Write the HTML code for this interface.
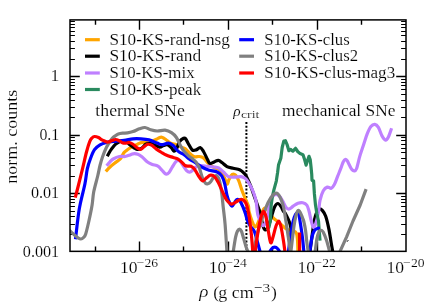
<!DOCTYPE html>
<html><head><meta charset="utf-8"><title>chart</title>
<style>html,body{margin:0;padding:0;background:#fff}svg{display:block}</style></head>
<body>
<svg width="436" height="305" viewBox="0 0 436 305">
<rect width="436" height="305" fill="#fff"/>
<defs><filter id="idf" x="0" y="0" width="436" height="305" filterUnits="userSpaceOnUse" color-interpolation-filters="sRGB"><feOffset dx="0" dy="0"/></filter><clipPath id="c"><rect x="70.0" y="19.9" width="336.0" height="231.45"/></clipPath></defs>
<path d="M95.50 251.35 v-4.9 M95.50 19.9 v4.9 M139.50 251.35 v-9.8 M139.50 19.9 v9.8 M183.50 251.35 v-4.9 M183.50 19.9 v4.9 M228.50 251.35 v-9.8 M228.50 19.9 v9.8 M272.50 251.35 v-4.9 M272.50 19.9 v4.9 M317.50 251.35 v-9.8 M317.50 19.9 v9.8 M361.50 251.35 v-4.9 M361.50 19.9 v4.9" stroke="#000" stroke-width="1.4" fill="none"/>
<path d="M70.0 193.50 h9.8 M406.0 193.50 h-9.8 M70.0 135.50 h9.8 M406.0 135.50 h-9.8 M70.0 76.50 h9.8 M406.0 76.50 h-9.8" stroke="#000" stroke-width="1.45" fill="none"/>
<path d="M70.0 234.50 h4.9 M406.0 234.50 h-4.9 M70.0 224.50 h4.9 M406.0 224.50 h-4.9 M70.0 216.50 h4.9 M406.0 216.50 h-4.9 M70.0 211.50 h4.9 M406.0 211.50 h-4.9 M70.0 206.50 h4.9 M406.0 206.50 h-4.9 M70.0 202.50 h4.9 M406.0 202.50 h-4.9 M70.0 199.50 h4.9 M406.0 199.50 h-4.9 M70.0 196.50 h4.9 M406.0 196.50 h-4.9 M70.0 176.50 h4.9 M406.0 176.50 h-4.9 M70.0 165.50 h4.9 M406.0 165.50 h-4.9 M70.0 158.50 h4.9 M406.0 158.50 h-4.9 M70.0 152.50 h4.9 M406.0 152.50 h-4.9 M70.0 148.50 h4.9 M406.0 148.50 h-4.9 M70.0 144.50 h4.9 M406.0 144.50 h-4.9 M70.0 140.50 h4.9 M406.0 140.50 h-4.9 M70.0 137.50 h4.9 M406.0 137.50 h-4.9 M70.0 117.50 h4.9 M406.0 117.50 h-4.9 M70.0 107.50 h4.9 M406.0 107.50 h-4.9 M70.0 100.50 h4.9 M406.0 100.50 h-4.9 M70.0 94.50 h4.9 M406.0 94.50 h-4.9 M70.0 89.50 h4.9 M406.0 89.50 h-4.9 M70.0 85.50 h4.9 M406.0 85.50 h-4.9 M70.0 82.50 h4.9 M406.0 82.50 h-4.9 M70.0 79.50 h4.9 M406.0 79.50 h-4.9 M70.0 59.50 h4.9 M406.0 59.50 h-4.9 M70.0 48.50 h4.9 M406.0 48.50 h-4.9 M70.0 41.50 h4.9 M406.0 41.50 h-4.9 M70.0 35.50 h4.9 M406.0 35.50 h-4.9 M70.0 31.50 h4.9 M406.0 31.50 h-4.9 M70.0 27.50 h4.9 M406.0 27.50 h-4.9 M70.0 24.50 h4.9 M406.0 24.50 h-4.9 M70.0 21.50 h4.9 M406.0 21.50 h-4.9" stroke="#000" stroke-width="1.1" fill="none"/>
<g clip-path="url(#c)" fill="none" stroke-width="3.2" stroke-linejoin="round" stroke-linecap="butt">
<path d="M246.4 122 V251.35" stroke="#000" stroke-width="2" stroke-dasharray="2 1.7" fill="none"/>
<path d="M105.80 171.50 C106.50 170.75 108.53 168.38 110.00 167.00 C111.47 165.62 113.27 164.23 114.60 163.20 C115.93 162.17 116.93 161.67 118.00 160.80 C119.07 159.93 120.02 159.33 121.00 158.00 C121.98 156.67 122.98 154.05 123.90 152.80 C124.82 151.55 125.58 151.23 126.50 150.50 C127.42 149.77 128.32 149.07 129.40 148.40 C130.48 147.73 131.78 147.12 133.00 146.50 C134.22 145.88 135.53 145.30 136.70 144.70 C137.87 144.10 138.95 143.28 140.00 142.90 C141.05 142.52 142.00 142.45 143.00 142.40 C144.00 142.35 144.92 142.62 146.00 142.60 C147.08 142.58 147.75 142.85 149.50 142.30 C151.25 141.75 154.87 140.07 156.50 139.30 C158.13 138.53 158.42 138.03 159.30 137.70 C160.18 137.37 160.72 137.00 161.80 137.30 C162.88 137.60 164.35 138.50 165.80 139.50 C167.25 140.50 168.73 142.43 170.50 143.30 C172.27 144.17 174.62 144.07 176.40 144.70 C178.18 145.33 179.77 146.47 181.20 147.10 C182.63 147.73 183.87 147.77 185.00 148.50 C186.13 149.23 187.00 150.50 188.00 151.50 C189.00 152.50 189.90 153.62 191.00 154.50 C192.10 155.38 193.20 156.47 194.60 156.80 C196.00 157.13 197.92 156.32 199.40 156.50 C200.88 156.68 202.15 156.87 203.50 157.90 C204.85 158.93 206.03 161.23 207.50 162.70 C208.97 164.17 210.70 165.73 212.30 166.70 C213.90 167.67 215.90 167.95 217.10 168.50 C218.30 169.05 218.30 168.48 219.50 170.00 C220.70 171.52 223.05 175.25 224.30 177.60 C225.55 179.95 226.20 183.82 227.00 184.10 C227.80 184.38 228.22 180.92 229.10 179.30 C229.98 177.68 231.22 175.08 232.30 174.40 C233.38 173.72 234.52 174.12 235.60 175.20 C236.68 176.28 237.73 178.35 238.80 180.90 C239.87 183.45 240.93 187.57 242.00 190.50 C243.07 193.43 244.13 195.92 245.20 198.50 C246.27 201.08 247.77 203.85 248.40 206.00 C249.03 208.15 248.37 208.82 249.00 211.40 C249.63 213.98 251.13 218.90 252.20 221.50 C253.27 224.10 254.33 227.00 255.40 227.00 C256.47 227.00 257.52 223.83 258.60 221.50 C259.68 219.17 260.95 215.22 261.90 213.00 C262.85 210.78 263.45 208.78 264.30 208.20 C265.15 207.62 265.53 207.90 267.00 209.50 C268.47 211.10 271.42 215.88 273.10 217.80 C274.78 219.72 274.83 219.12 277.10 221.00 C279.37 222.88 284.02 227.48 286.70 229.10 C289.38 230.72 291.58 230.03 293.20 230.70 C294.82 231.37 295.68 231.55 296.40 233.10 C297.12 234.65 297.23 236.68 297.50 240.00 C297.77 243.32 297.92 250.83 298.00 253.00" stroke="#FFA500"/>
<path d="M347.00 241.80 L348.40 240.00" stroke="#000000" stroke-width="0.9"/>
<path d="M107.20 156.30 C107.75 155.33 109.45 152.13 110.50 150.50 C111.55 148.87 112.55 147.62 113.50 146.50 C114.45 145.38 114.95 144.67 116.20 143.80 C117.45 142.93 119.37 141.63 121.00 141.30 C122.63 140.97 124.27 141.02 126.00 141.80 C127.73 142.58 130.07 145.00 131.40 146.00 C132.73 147.00 133.07 147.25 134.00 147.80 C134.93 148.35 135.83 149.15 137.00 149.30 C138.17 149.45 139.52 149.55 141.00 148.70 C142.48 147.85 144.57 145.07 145.90 144.20 C147.23 143.33 147.93 143.55 149.00 143.50 C150.07 143.45 150.55 143.30 152.30 143.90 C154.05 144.50 157.63 146.83 159.50 147.10 C161.37 147.37 162.17 145.90 163.50 145.50 C164.83 145.10 166.17 144.30 167.50 144.70 C168.83 145.10 170.42 146.83 171.50 147.90 C172.58 148.97 173.17 150.92 174.00 151.10 C174.83 151.28 175.57 150.60 176.50 149.00 C177.43 147.40 178.42 143.28 179.60 141.50 C180.78 139.72 182.62 138.78 183.60 138.30 C184.58 137.82 184.73 137.73 185.50 138.60 C186.27 139.47 187.08 141.62 188.20 143.50 C189.32 145.38 190.87 148.83 192.20 149.90 C193.53 150.97 194.87 150.30 196.20 149.90 C197.53 149.50 198.98 147.23 200.20 147.50 C201.42 147.77 202.28 149.50 203.50 151.50 C204.72 153.50 206.43 157.50 207.50 159.50 C208.57 161.50 208.78 163.08 209.90 163.50 C211.02 163.92 212.80 162.53 214.20 162.00 C215.60 161.47 216.95 160.17 218.30 160.30 C219.65 160.43 220.85 161.75 222.30 162.80 C223.75 163.85 225.18 165.68 227.00 166.60 C228.82 167.52 231.10 167.77 233.20 168.30 C235.30 168.83 237.87 169.05 239.60 169.80 C241.33 170.55 242.53 171.80 243.60 172.80 C244.67 173.80 244.83 173.62 246.00 175.80 C247.17 177.98 249.17 182.35 250.60 185.90 C252.03 189.45 253.27 193.37 254.60 197.10 C255.93 200.83 257.67 205.65 258.60 208.30 C259.53 210.95 259.47 210.05 260.20 213.00 C260.93 215.95 262.12 223.17 263.00 226.00 C263.88 228.83 264.62 229.92 265.50 230.00 C266.38 230.08 267.17 229.20 268.30 226.50 C269.43 223.80 271.23 217.10 272.30 213.80 C273.37 210.50 273.77 208.42 274.70 206.70 C275.63 204.98 276.83 203.50 277.90 203.50 C278.97 203.50 280.17 205.37 281.10 206.70 C282.03 208.03 282.83 210.45 283.50 211.50 C284.17 212.55 284.30 211.68 285.10 213.00 C285.90 214.32 287.43 217.40 288.30 219.40 C289.17 221.40 289.82 223.07 290.30 225.00 C290.78 226.93 291.15 228.83 291.20 231.00 C291.25 233.17 290.83 235.50 290.60 238.00 C290.37 240.50 289.98 243.50 289.80 246.00 C289.62 248.50 289.55 251.83 289.50 253.00" stroke="#000000"/>
<path d="M309.80 253.00 C310.08 250.83 310.97 244.00 311.50 240.00 C312.03 236.00 312.50 232.42 313.00 229.00 C313.50 225.58 313.92 222.20 314.50 219.50 C315.08 216.80 315.70 214.55 316.50 212.80 C317.30 211.05 318.30 209.37 319.30 209.00 C320.30 208.63 321.43 209.40 322.50 210.60 C323.57 211.80 324.63 213.12 325.70 216.20 C326.77 219.28 327.97 224.55 328.90 229.10 C329.83 233.65 330.62 239.52 331.30 243.50 C331.98 247.48 332.72 251.42 333.00 253.00" stroke="#000000"/>
<path d="M106.60 165.80 C107.17 165.13 108.90 162.93 110.00 161.80 C111.10 160.67 111.63 159.88 113.20 159.00 C114.77 158.12 117.43 156.92 119.40 156.50 C121.37 156.08 123.23 156.75 125.00 156.50 C126.77 156.25 128.67 155.45 130.00 155.00 C131.33 154.55 131.70 153.93 133.00 153.80 C134.30 153.67 136.32 153.70 137.80 154.20 C139.28 154.70 140.28 155.50 141.90 156.80 C143.52 158.10 145.77 160.73 147.50 162.00 C149.23 163.27 150.57 163.72 152.30 164.40 C154.03 165.08 156.30 165.15 157.90 166.10 C159.50 167.05 160.57 168.77 161.90 170.10 C163.23 171.43 164.70 173.70 165.90 174.10 C167.10 174.50 168.02 173.70 169.10 172.50 C170.18 171.30 171.32 168.65 172.40 166.90 C173.48 165.15 174.67 163.08 175.60 162.00 C176.53 160.92 177.18 160.48 178.00 160.40 C178.82 160.32 179.70 160.70 180.50 161.50 C181.30 162.30 181.78 163.68 182.80 165.20 C183.82 166.72 185.47 169.43 186.60 170.60 C187.73 171.77 188.53 172.30 189.60 172.20 C190.67 172.10 191.93 170.87 193.00 170.00 C194.07 169.13 194.67 167.73 196.00 167.00 C197.33 166.27 199.08 165.70 201.00 165.60 C202.92 165.50 205.35 166.17 207.50 166.40 C209.65 166.63 212.03 166.73 213.90 167.00 C215.77 167.27 217.10 167.17 218.70 168.00 C220.30 168.83 221.90 170.57 223.50 172.00 C225.10 173.43 226.42 175.73 228.30 176.60 C230.18 177.47 232.65 177.20 234.80 177.20 C236.95 177.20 239.33 176.30 241.20 176.60 C243.07 176.90 244.40 177.35 246.00 179.00 C247.60 180.65 249.47 184.00 250.80 186.50 C252.13 189.00 253.10 191.43 254.00 194.00 C254.90 196.57 255.57 198.47 256.20 201.90 C256.83 205.33 257.00 211.22 257.80 214.60 C258.60 217.98 260.08 220.37 261.00 222.20 C261.92 224.03 262.38 225.88 263.30 225.60 C264.22 225.32 265.67 222.87 266.50 220.50 C267.33 218.13 267.88 213.98 268.30 211.40 C268.72 208.82 268.38 207.32 269.00 205.00 C269.62 202.68 270.92 199.25 272.00 197.50 C273.08 195.75 274.25 194.70 275.50 194.50 C276.75 194.30 278.30 195.20 279.50 196.30 C280.70 197.40 281.63 199.28 282.70 201.10 C283.77 202.92 284.82 205.88 285.90 207.20 C286.98 208.52 287.98 209.17 289.20 209.00 C290.42 208.83 291.73 207.17 293.20 206.20 C294.67 205.23 296.40 203.78 298.00 203.20 C299.60 202.62 301.33 202.38 302.80 202.70 C304.27 203.02 305.77 203.72 306.80 205.10 C307.83 206.48 308.32 208.60 309.00 211.00 C309.68 213.40 310.17 216.75 310.90 219.50 C311.63 222.25 312.55 226.97 313.40 227.50 C314.25 228.03 315.15 225.28 316.00 222.70 C316.85 220.12 317.83 215.73 318.50 212.00 C319.17 208.27 319.20 203.85 320.00 200.30 C320.80 196.75 322.08 192.90 323.30 190.70 C324.52 188.50 325.97 187.50 327.30 187.10 C328.63 186.70 330.10 188.77 331.30 188.30 C332.50 187.83 333.43 186.32 334.50 184.30 C335.57 182.28 336.63 178.88 337.70 176.20 C338.77 173.52 339.98 170.57 340.90 168.20 C341.82 165.83 342.48 163.45 343.20 162.00 C343.92 160.55 344.53 159.70 345.20 159.50 C345.87 159.30 346.48 159.83 347.20 160.80 C347.92 161.77 348.70 163.83 349.50 165.30 C350.30 166.77 351.20 168.68 352.00 169.60 C352.80 170.52 353.55 170.93 354.30 170.80 C355.05 170.67 355.57 171.28 356.50 168.80 C357.43 166.32 358.73 159.88 359.90 155.90 C361.07 151.92 362.28 148.57 363.50 144.90 C364.72 141.23 365.97 136.97 367.20 133.90 C368.43 130.83 369.63 128.08 370.90 126.50 C372.17 124.92 373.55 124.25 374.80 124.40 C376.05 124.55 377.20 125.48 378.40 127.40 C379.60 129.32 380.80 133.78 382.00 135.90 C383.20 138.02 384.53 139.92 385.60 140.10 C386.67 140.28 387.40 138.97 388.40 137.00 C389.40 135.03 391.07 129.75 391.60 128.30" stroke="#BF80FF"/>
<path d="M267.20 230.50 L269.00 227.00 L270.30 221.00 L270.70 213.80 L271.20 205.00 L272.30 197.10 L273.90 189.90 L276.30 181.10 L277.60 172.50 L278.50 165.10 L280.90 157.90 L282.20 147.50 L283.80 141.10 L285.40 140.70 L287.00 144.30 L288.90 150.70 L290.50 149.40 L292.90 151.20 L295.60 148.30 L297.70 151.50 L300.10 153.60 L303.00 154.70 L304.60 159.50 L306.10 165.10 L307.40 161.10 L309.00 156.30 L310.20 159.50 L311.00 166.70 L311.70 173.80 L312.00 180.20 L313.60 181.00 L314.40 193.90 L315.50 205.10 L316.90 213.80 L318.50 221.00 L320.00 240.60" stroke="#2A8A5F"/>
<path d="M75.50 239.20 C76.13 234.13 77.73 218.00 79.30 208.80 C80.87 199.60 83.57 190.67 84.90 184.00 C86.23 177.33 86.37 173.05 87.30 168.80 C88.23 164.55 89.30 161.68 90.50 158.50 C91.70 155.32 92.92 151.97 94.50 149.70 C96.08 147.43 98.00 146.10 100.00 144.90 C102.00 143.70 104.07 143.10 106.50 142.50 C108.93 141.90 111.65 141.65 114.60 141.30 C117.55 140.95 121.13 140.82 124.20 140.40 C127.27 139.98 130.20 139.07 133.00 138.80 C135.80 138.53 138.33 138.62 141.00 138.80 C143.67 138.98 146.32 139.18 149.00 139.90 C151.68 140.62 154.95 142.30 157.10 143.10 C159.25 143.90 160.03 144.70 161.90 144.70 C163.77 144.70 166.42 142.97 168.30 143.10 C170.18 143.23 171.58 144.17 173.20 145.50 C174.82 146.83 176.13 149.52 178.00 151.10 C179.87 152.68 182.53 153.68 184.40 155.00 C186.27 156.32 187.43 157.75 189.20 159.00 C190.97 160.25 192.75 161.08 195.00 162.50 C197.25 163.92 200.35 166.22 202.70 167.50 C205.05 168.78 206.70 169.45 209.10 170.20 C211.50 170.95 214.98 171.03 217.10 172.00 C219.22 172.97 220.52 173.98 221.80 176.00 C223.08 178.02 223.93 180.88 224.80 184.10 C225.67 187.32 226.18 192.15 227.00 195.30 C227.82 198.45 228.85 201.18 229.70 203.00 C230.55 204.82 231.28 206.27 232.10 206.20 C232.92 206.13 233.78 203.73 234.60 202.60 C235.42 201.47 236.12 199.70 237.00 199.40 C237.88 199.10 238.87 199.45 239.90 200.80 C240.93 202.15 242.28 205.38 243.20 207.50 C244.12 209.62 244.67 211.25 245.40 213.50 C246.13 215.75 246.75 218.83 247.60 221.00 C248.45 223.17 249.40 224.80 250.50 226.50 C251.60 228.20 253.07 228.70 254.20 231.20 C255.33 233.70 256.27 237.87 257.30 241.50 C258.33 245.13 259.88 251.08 260.40 253.00" stroke="#0000FF"/>
<path d="M268.50 254.00 C269.00 253.17 270.47 250.13 271.50 249.00 C272.53 247.87 273.63 247.20 274.70 247.20 C275.77 247.20 276.85 247.87 277.90 249.00 C278.95 250.13 280.48 253.17 281.00 254.00" stroke="#0000FF"/>
<path d="M288.30 253.00 C288.67 250.17 289.68 241.33 290.50 236.00 C291.32 230.67 292.37 224.58 293.20 221.00 C294.03 217.42 294.83 215.83 295.50 214.50 C296.17 213.17 296.62 212.92 297.20 213.00 C297.78 213.08 298.53 213.67 299.00 215.00 C299.47 216.33 299.43 217.32 300.00 221.00 C300.57 224.68 301.73 231.77 302.40 237.10 C303.07 242.43 303.73 250.35 304.00 253.00" stroke="#0000FF"/>
<path d="M309.60 253.00 C310.00 250.35 311.20 240.82 312.00 237.10 C312.80 233.38 313.45 232.17 314.40 230.70 C315.35 229.23 316.77 228.70 317.70 228.30 C318.63 227.90 319.62 228.30 320.00 228.30" stroke="#0000FF"/>
<path d="M68.50 229.60 C68.82 229.88 69.48 230.47 70.40 231.30 C71.32 232.13 72.73 233.52 74.00 234.60 C75.27 235.68 76.85 237.07 78.00 237.80 C79.15 238.53 79.98 239.05 80.90 239.00 C81.82 238.95 82.70 238.35 83.50 237.50 C84.30 236.65 84.80 236.65 85.70 233.90 C86.60 231.15 87.83 225.82 88.90 221.00 C89.97 216.18 91.30 209.83 92.10 205.00 C92.90 200.17 92.77 196.83 93.70 192.00 C94.63 187.17 96.65 180.42 97.70 176.00 C98.75 171.58 99.20 168.67 100.00 165.50 C100.80 162.33 101.42 160.03 102.50 157.00 C103.58 153.97 104.93 150.33 106.50 147.30 C108.07 144.27 110.28 140.80 111.90 138.80 C113.52 136.80 115.13 136.12 116.20 135.30 C117.27 134.48 117.23 134.27 118.30 133.90 C119.37 133.53 121.07 133.27 122.60 133.10 C124.13 132.93 125.77 133.15 127.50 132.90 C129.23 132.65 131.02 132.28 133.00 131.60 C134.98 130.92 137.40 129.48 139.40 128.80 C141.40 128.12 143.12 127.33 145.00 127.50 C146.88 127.67 148.68 129.22 150.70 129.80 C152.72 130.38 154.70 130.93 157.10 131.00 C159.50 131.07 162.70 129.92 165.10 130.20 C167.50 130.48 169.62 131.48 171.50 132.70 C173.38 133.92 174.92 135.37 176.40 137.50 C177.88 139.63 179.15 143.23 180.40 145.50 C181.65 147.77 182.58 149.42 183.90 151.10 C185.22 152.78 186.87 154.32 188.30 155.60 C189.73 156.88 191.22 157.73 192.50 158.80 C193.78 159.87 195.12 160.95 196.00 162.00 C196.88 163.05 197.23 164.10 197.80 165.10 C198.37 166.10 198.58 165.77 199.40 168.00 C200.22 170.23 201.67 175.95 202.70 178.50 C203.73 181.05 204.75 182.42 205.60 183.30 C206.45 184.18 206.95 184.07 207.80 183.80 C208.65 183.53 209.68 182.87 210.70 181.70 C211.72 180.53 212.83 177.75 213.90 176.80 C214.97 175.85 216.17 175.32 217.10 176.00 C218.03 176.68 218.75 178.22 219.50 180.90 C220.25 183.58 220.98 187.75 221.60 192.10 C222.22 196.45 222.62 201.63 223.20 207.00 C223.78 212.37 224.47 216.63 225.10 224.30 C225.73 231.97 226.68 248.22 227.00 253.00" stroke="#808080"/>
<path d="M233.00 253.00 C233.43 250.35 234.85 240.77 235.60 237.10 C236.35 233.43 236.83 232.33 237.50 231.00 C238.17 229.67 238.97 229.10 239.60 229.10 C240.23 229.10 240.77 229.93 241.30 231.00 C241.83 232.07 242.02 232.88 242.80 235.50 C243.58 238.12 245.03 243.78 246.00 246.70 C246.97 249.62 248.17 251.95 248.60 253.00" stroke="#808080"/>
<path d="M253.50 253.00 C254.12 249.83 255.92 239.25 257.20 234.00 C258.48 228.75 259.75 225.92 261.20 221.50 C262.65 217.08 264.32 211.43 265.90 207.50 C267.48 203.57 269.23 200.22 270.70 197.90 C272.17 195.58 273.50 194.27 274.70 193.60 C275.90 192.93 276.83 192.92 277.90 193.90 C278.97 194.88 280.17 197.32 281.10 199.50 C282.03 201.68 282.70 203.42 283.50 207.00 C284.30 210.58 285.10 215.98 285.90 221.00 C286.70 226.02 287.53 231.77 288.30 237.10 C289.07 242.43 290.13 250.35 290.50 253.00" stroke="#808080"/>
<path d="M290.60 253.00 C290.75 251.95 290.93 251.22 291.50 246.70 C292.07 242.18 293.25 231.10 294.00 225.90 C294.75 220.70 295.33 218.07 296.00 215.50 C296.67 212.93 297.28 211.00 298.00 210.50 C298.72 210.00 299.55 211.28 300.30 212.50 C301.05 213.72 301.92 216.30 302.50 217.80 C303.08 219.30 303.28 219.35 303.80 221.50 C304.32 223.65 305.10 227.30 305.60 230.70 C306.10 234.10 306.33 238.18 306.80 241.90 C307.27 245.62 308.13 251.15 308.40 253.00" stroke="#808080"/>
<path d="M315.00 253.00 C315.32 250.62 316.32 242.03 316.90 238.70 C317.48 235.37 317.98 234.33 318.50 233.00 C319.02 231.67 319.47 231.12 320.00 230.70 C320.53 230.28 321.15 230.23 321.70 230.50 C322.25 230.77 322.50 230.67 323.30 232.30 C324.10 233.93 325.38 236.85 326.50 240.30 C327.62 243.75 329.42 250.88 330.00 253.00" stroke="#808080"/>
<path d="M339.30 253.00 L346.50 237.10 L353.00 221.00 L360.20 205.00 L366.10 189.10" stroke="#808080"/>
<path d="M75.20 197.70 C75.67 195.92 76.78 191.82 78.00 187.00 C79.22 182.18 81.08 174.63 82.50 168.80 C83.92 162.97 85.30 156.52 86.50 152.00 C87.70 147.48 88.78 144.03 89.70 141.70 C90.62 139.37 91.20 138.87 92.00 138.00 C92.80 137.13 93.42 136.58 94.50 136.50 C95.58 136.42 97.42 137.03 98.50 137.50 C99.58 137.97 100.08 138.75 101.00 139.30 C101.92 139.85 102.87 140.32 104.00 140.80 C105.13 141.28 106.48 142.23 107.80 142.20 C109.12 142.17 110.60 141.05 111.90 140.60 C113.20 140.15 114.37 139.47 115.60 139.50 C116.83 139.53 118.08 140.23 119.30 140.80 C120.52 141.37 121.68 142.53 122.90 142.90 C124.12 143.27 125.52 143.07 126.60 143.00 C127.68 142.93 128.33 142.28 129.40 142.50 C130.47 142.72 131.78 143.47 133.00 144.30 C134.22 145.13 135.48 146.65 136.70 147.50 C137.92 148.35 139.05 149.55 140.30 149.40 C141.55 149.25 142.95 147.45 144.20 146.60 C145.45 145.75 146.58 144.53 147.80 144.30 C149.02 144.07 150.12 144.43 151.50 145.20 C152.88 145.97 154.42 147.68 156.10 148.90 C157.78 150.12 159.83 151.43 161.60 152.50 C163.37 153.57 164.77 154.47 166.70 155.30 C168.63 156.13 171.32 156.87 173.20 157.50 C175.08 158.13 176.40 158.15 178.00 159.10 C179.60 160.05 181.63 162.13 182.80 163.20 C183.97 164.27 184.13 165.00 185.00 165.50 C185.87 166.00 187.00 166.07 188.00 166.20 C189.00 166.33 189.90 165.78 191.00 166.30 C192.10 166.82 193.33 167.68 194.60 169.30 C195.87 170.92 197.25 174.07 198.60 176.00 C199.95 177.93 201.35 180.63 202.70 180.90 C204.05 181.17 205.37 178.55 206.70 177.60 C208.03 176.65 209.37 175.33 210.70 175.20 C212.03 175.07 213.37 175.45 214.70 176.80 C216.03 178.15 217.37 180.75 218.70 183.30 C220.03 185.85 221.37 189.30 222.70 192.10 C224.03 194.90 225.23 198.10 226.70 200.10 C228.17 202.10 229.88 203.83 231.50 204.10 C233.12 204.37 234.78 202.50 236.40 201.70 C238.02 200.90 239.63 199.08 241.20 199.30 C242.77 199.52 244.52 200.38 245.80 203.00 C247.08 205.62 247.98 209.85 248.90 215.00 C249.82 220.15 250.63 227.57 251.30 233.90 C251.97 240.23 252.63 249.82 252.90 253.00" stroke="#FF0000"/>
<path d="M255.00 253.00 C255.50 249.50 257.00 238.00 258.00 232.00 C259.00 226.00 260.08 220.43 261.00 217.00 C261.92 213.57 262.67 211.40 263.50 211.40 C264.33 211.40 265.17 213.57 266.00 217.00 C266.83 220.43 267.72 227.72 268.50 232.00 C269.28 236.28 269.95 241.87 270.70 242.70 C271.45 243.53 272.12 239.78 273.00 237.00 C273.88 234.22 275.05 228.67 276.00 226.00 C276.95 223.33 277.87 220.83 278.70 221.00 C279.53 221.17 280.20 223.67 281.00 227.00 C281.80 230.33 282.82 236.67 283.50 241.00 C284.18 245.33 284.83 251.00 285.10 253.00" stroke="#FF0000"/>
<path d="M299.60 253.00 L299.60 232.50" stroke="#FF0000"/>
</g>
<rect x="70.0" y="19.9" width="336.0" height="231.45" fill="none" stroke="#000" stroke-width="1.5"/>
<g font-family="'Liberation Serif', serif" fill="#000" stroke="#fff" stroke-width="0.15" filter="url(#idf)">
<path d="M85 39.7 H99.8" stroke="#FFA500" stroke-width="3.2"/>
<text x="109.4" y="44.7" font-size="17.6" text-anchor="start" textLength="120.5" lengthAdjust="spacingAndGlyphs">S10-KS-rand-nsg</text>
<path d="M85 56.2 H99.8" stroke="#000000" stroke-width="3.2"/>
<text x="109.4" y="61.2" font-size="17.6" text-anchor="start" textLength="91.8" lengthAdjust="spacingAndGlyphs">S10-KS-rand</text>
<path d="M85 73.0 H99.8" stroke="#BF80FF" stroke-width="3.2"/>
<text x="109.4" y="78.0" font-size="17.6" text-anchor="start" textLength="85.2" lengthAdjust="spacingAndGlyphs">S10-KS-mix</text>
<path d="M85 89.5 H99.8" stroke="#2A8A5F" stroke-width="3.2"/>
<text x="109.4" y="94.5" font-size="17.6" text-anchor="start" textLength="91.8" lengthAdjust="spacingAndGlyphs">S10-KS-peak</text>
<path d="M239.2 39.7 H254" stroke="#0000FF" stroke-width="3.2"/>
<text x="264.3" y="44.7" font-size="17.6" text-anchor="start" textLength="85.4" lengthAdjust="spacingAndGlyphs">S10-KS-clus</text>
<path d="M239.2 56.2 H254" stroke="#808080" stroke-width="3.2"/>
<text x="264.3" y="61.2" font-size="17.6" text-anchor="start" textLength="93.7" lengthAdjust="spacingAndGlyphs">S10-KS-clus2</text>
<path d="M239.2 73.0 H254" stroke="#FF0000" stroke-width="3.2"/>
<text x="264.3" y="78.0" font-size="17.6" text-anchor="start" textLength="130.9" lengthAdjust="spacingAndGlyphs">S10-KS-clus-mag3</text>
<text x="95.3" y="115.9" font-size="17.6" text-anchor="start" textLength="89.5" lengthAdjust="spacingAndGlyphs">thermal SNe</text>
<text x="282" y="115.9" font-size="17.6" text-anchor="start" textLength="113.5" lengthAdjust="spacingAndGlyphs">mechanical SNe</text>
<text x="233.2" y="115.6" font-size="15.3" font-style="italic">ρ</text><text x="240.9" y="117.8" font-size="10.5" textLength="18.6" lengthAdjust="spacingAndGlyphs">crit</text>
<text x="59.2" y="81.39999999999999" font-size="17.6" text-anchor="end">1</text>
<text x="59.2" y="139.79999999999998" font-size="17.6" text-anchor="end" textLength="19.8" lengthAdjust="spacingAndGlyphs">0.1</text>
<text x="59.2" y="198.2" font-size="17.6" text-anchor="end" textLength="28.3" lengthAdjust="spacingAndGlyphs">0.01</text>
<text x="59.2" y="256.6" font-size="17.6" text-anchor="end" textLength="36.4" lengthAdjust="spacingAndGlyphs">0.001</text>
<text x="119.88" y="272.9" font-size="17.6">10</text><text x="136.78" y="267.1" font-size="12.3" textLength="21.3" lengthAdjust="spacingAndGlyphs">−26</text>
<text x="208.72" y="272.9" font-size="17.6">10</text><text x="225.62" y="267.1" font-size="12.3" textLength="21.3" lengthAdjust="spacingAndGlyphs">−24</text>
<text x="297.56" y="272.9" font-size="17.6">10</text><text x="314.46" y="267.1" font-size="12.3" textLength="21.3" lengthAdjust="spacingAndGlyphs">−22</text>
<text x="386.40" y="272.9" font-size="17.6">10</text><text x="403.30" y="267.1" font-size="12.3" textLength="21.3" lengthAdjust="spacingAndGlyphs">−20</text>
<text x="199.2" y="296.9" font-size="16" font-style="italic" textLength="9.2" lengthAdjust="spacingAndGlyphs">ρ</text><text x="213.2" y="297.6" font-size="17.6">(</text><text x="218.3" y="297.6" font-size="17.6" textLength="35.4" lengthAdjust="spacingAndGlyphs">g cm</text><text x="253.7" y="291.8" font-size="13.2" textLength="16.4" lengthAdjust="spacingAndGlyphs">−3</text><text x="270.9" y="297.6" font-size="17.6">)</text>
<text transform="translate(17.2,136.8) rotate(-90)" font-size="17.6" text-anchor="middle" textLength="94" lengthAdjust="spacingAndGlyphs">norm. counts</text>
</g>
</svg>
</body></html>
